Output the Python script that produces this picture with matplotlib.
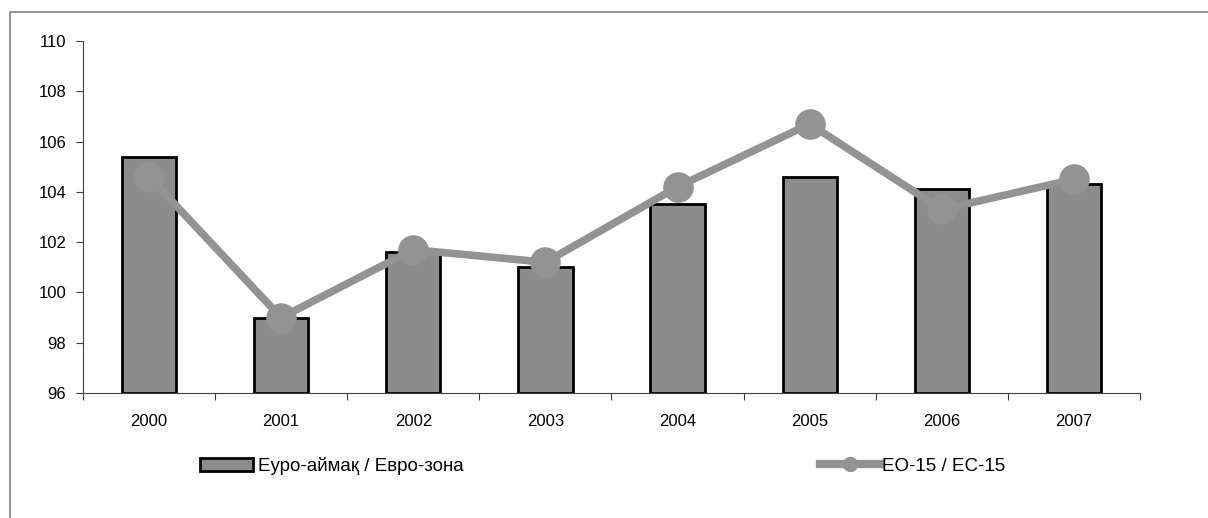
import numpy as np
import matplotlib.pyplot as plt
from matplotlib.lines import Line2D
from matplotlib.patches import Patch, Rectangle

plt.rcParams['font.family'] = ['Liberation Sans', 'DejaVu Sans']

years = ["2000", "2001", "2002", "2003", "2004", "2005", "2006", "2007"]
euro_zone = [105.4, 99.0, 101.6, 101.0, 103.5, 104.6, 104.1, 104.3]
eu15 = [104.6, 99.0, 101.7, 101.2, 104.2, 106.7, 103.3, 104.5]

bar_label = "Еуро-аймақ / Евро-зона"
line_label = "ЕО-15 / ЕС-15"

fig = plt.figure(figsize=(12.08, 5.18), dpi=100)
ax = fig.add_axes([0.0687, 0.2413, 0.875, 0.6795])

x = np.arange(len(years))
ax.bar(x, np.array(euro_zone) - 96, bottom=96, width=0.41, color="#8c8c8c",
       edgecolor="black", linewidth=2, zorder=2)
ax.plot(x, eu15, color="#939393", linewidth=5.5, marker="o", markersize=21,
        zorder=3, solid_capstyle="butt")

ax.set_ylim(96, 110)
ax.set_xlim(-0.5, len(years) - 0.5)
ax.set_yticks(np.arange(96, 111, 2))
ax.set_xticks(np.arange(len(years) + 1) - 0.5)
ax.set_xticklabels([])
ax.set_xticks(x, minor=True)
ax.set_xticklabels(years, minor=True)
ax.tick_params(axis="x", which="minor", length=0, pad=15, labelsize=12)
ax.tick_params(axis="x", which="major", length=5, direction="out", color="#404040")
ax.tick_params(axis="y", length=5, direction="out", labelsize=12, color="#404040", pad=7)
for s in ["top", "right"]:
    ax.spines[s].set_visible(False)
ax.spines["left"].set_color("#404040")
ax.spines["bottom"].set_color("#404040")

# outer frame (left and top only visible)
fig.add_artist(Rectangle((10 / 1208, -0.1), 1.2, 1 - 12 / 518 + 0.1,
                         transform=fig.transFigure, fill=False,
                         edgecolor="#808080", linewidth=1.2))

h_bar = Patch(facecolor="#8c8c8c", edgecolor="black", linewidth=2)
h_line = Line2D([], [], color="#939393", linewidth=6, marker="o", markersize=10)
fig.legend([h_bar], [bar_label], loc="center left", bbox_to_anchor=(0.1656, 0.10),
           frameon=False, fontsize=13.5, handlelength=2.83, handleheight=0.64,
           handletextpad=0.27, borderaxespad=0, borderpad=0)
fig.legend([h_line], [line_label], loc="center left", bbox_to_anchor=(0.679, 0.10),
           frameon=False, fontsize=13.5, handlelength=3.2, handletextpad=0.1,
           borderaxespad=0, borderpad=0)

fig.savefig("out.png", dpi=100)
